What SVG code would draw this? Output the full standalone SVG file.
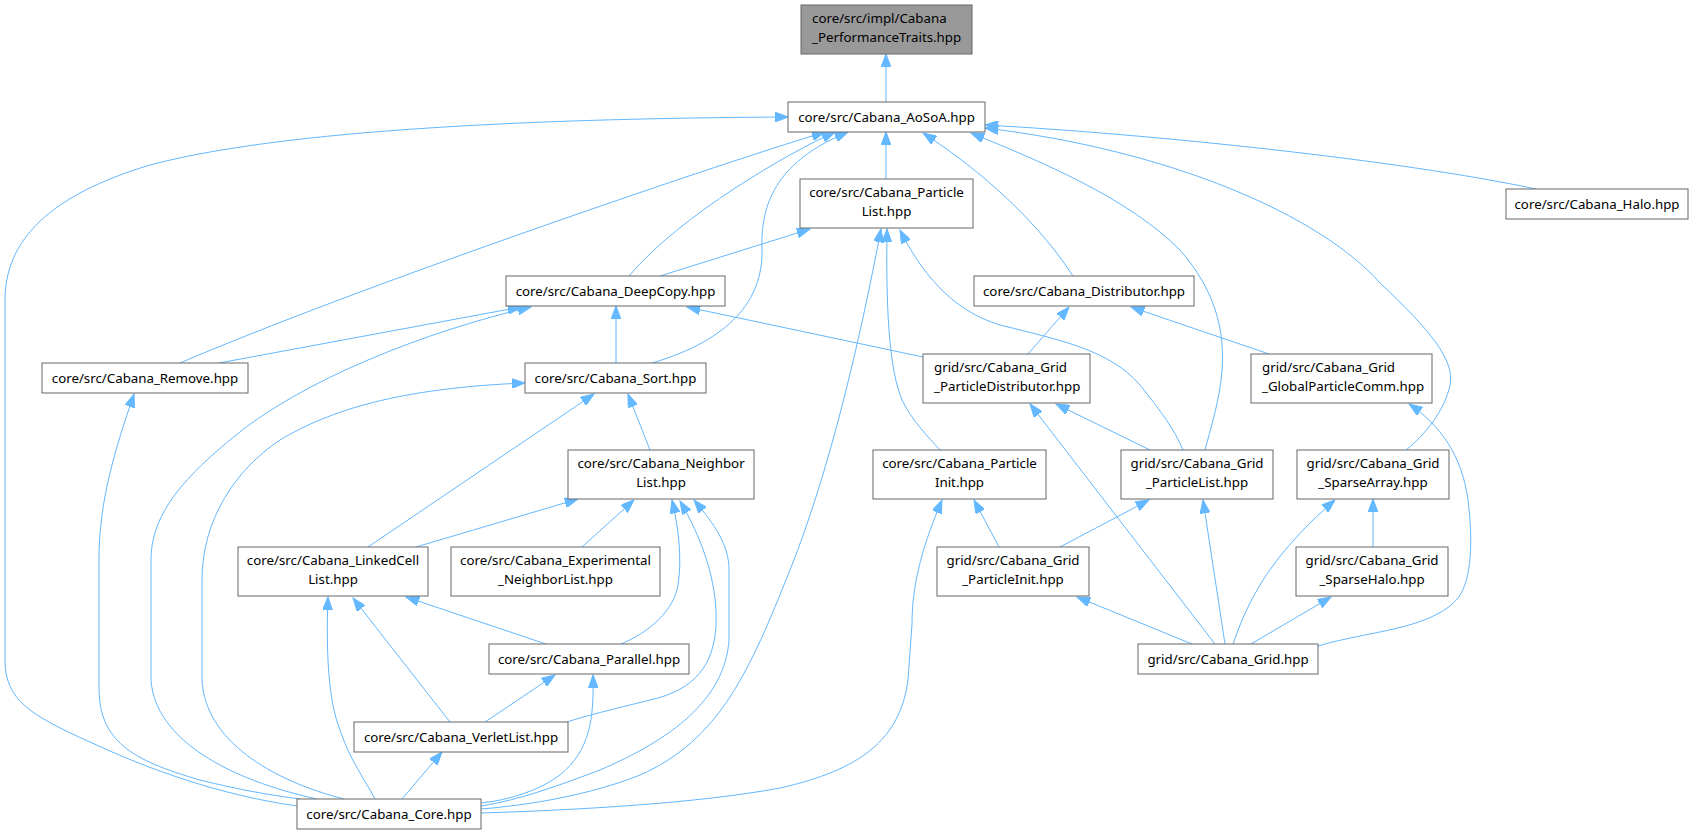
<svg xmlns="http://www.w3.org/2000/svg" width="1694" height="834" viewBox="0 0 1694 834">
<style>
.n rect{fill:#ffffff;stroke:#666666;stroke-width:1}
.n.root rect{fill:#999999}
.n text{font-family:"Noto Sans","DejaVu Sans",sans-serif;font-size:13.3px;fill:#000000}
.c{text-anchor:middle}
.e path{fill:none;stroke:#63b8ff;stroke-width:1;marker-start:url(#ah)}
</style>
<defs>
<marker id="ah" markerUnits="userSpaceOnUse" markerWidth="14" markerHeight="10" refX="13.3" refY="5" orient="auto-start-reverse" viewBox="0 0 14 10">
<path d="M0,0 L13.3,5 L0,10 z" fill="#63b8ff" stroke="#63b8ff" stroke-width="1"/>
</marker>
</defs>
<rect width="1694" height="834" fill="#ffffff"/>
<g id="edges" class="e">
<path d="M886,54 L886,102"/>
<path d="M788,117 C600,118 300,125 150,165 C50,195 5,240 5,300 L5,660 C5,700 30,715 90,742 C150,770 220,795 297,806"/>
<path d="M825,132 C700,170 350,290 180,363"/>
<path d="M835,132 C790,152 680,215 629,276"/>
<path d="M848,132 C780,160 760,200 762,250 C763,300 730,340 652,363"/>
<path d="M886,132 L886,179"/>
<path d="M923,133 C965,160 1030,210 1073,276"/>
<path d="M971,133 C1050,165 1130,200 1180,250 C1215,290 1225,330 1222,370 C1220,400 1210,430 1205,450"/>
<path d="M985,128 C1170,150 1320,215 1380,283 C1430,330 1455,360 1450,385 C1445,410 1425,435 1406,450"/>
<path d="M985,125 C1150,134 1400,160 1536,189"/>
<path d="M810,229 L660,276"/>
<path d="M881,229 C860,340 830,470 790,570 C750,670 720,740 640,775 C590,795 530,805 481,809"/>
<path d="M887,229 C886,300 888,370 903,402 C912,420 928,437 940,450"/>
<path d="M900,230 C920,270 950,310 1000,325 C1060,340 1110,350 1140,385 C1160,410 1175,430 1183,450"/>
<path d="M521,307 L219,363"/>
<path d="M531,307 C430,330 300,380 230,440 C175,485 151,520 151,560 L151,680 C155,740 230,780 317,799"/>
<path d="M616,306 L616,363"/>
<path d="M687,307 L923,357"/>
<path d="M1069,307 L1028,354"/>
<path d="M1131,307 L1269,354"/>
<path d="M134,394 C115,450 99,500 99,560 L99,690 C100,740 130,760 200,780 C240,790 270,795 300,799"/>
<path d="M525,383 C400,388 330,410 280,440 C235,470 202,520 202,580 L202,680 C205,740 270,780 344,799"/>
<path d="M594,394 L368,547"/>
<path d="M628,394 L650,450"/>
<path d="M1056,404 L1150,450"/>
<path d="M1030,404 L1215,644"/>
<path d="M1409,404 C1440,425 1462,455 1468,500 C1473,540 1472,580 1458,598 C1440,620 1400,628 1370,634 C1350,638 1335,641 1318,646"/>
<path d="M578,499 L416,547"/>
<path d="M634,500 L582,547"/>
<path d="M672,500 C679,530 682,560 678,585 C674,610 650,632 621,644"/>
<path d="M680,501 C700,535 718,580 716,625 C714,665 695,690 650,700 C610,710 585,716 567,722"/>
<path d="M694,500 C715,525 729,545 729,570 L729,640 C725,700 670,740 600,770 C560,785 520,800 481,806"/>
<path d="M974,500 L999,547"/>
<path d="M942,500 C925,540 912,580 912,624 L908,680 C900,740 860,770 780,788 C700,803 580,810 481,813"/>
<path d="M1149,500 L1060,547"/>
<path d="M1203,500 L1225,644"/>
<path d="M1373,499 L1373,547"/>
<path d="M1335,500 C1300,530 1275,560 1260,585 C1245,610 1238,630 1233,644"/>
<path d="M406,597 L546,644"/>
<path d="M353,598 L450,722"/>
<path d="M328,597 C326,650 328,700 340,730 C350,760 365,780 375,799"/>
<path d="M1077,597 L1192,644"/>
<path d="M1331,597 L1251,644"/>
<path d="M555,675 L485,722"/>
<path d="M593,675 C594,720 590,750 560,775 C540,790 510,800 481,803"/>
<path d="M442,752 L402,799"/>
</g>
<g id="node_perftraits" class="n root"><rect x="801" y="5" width="171" height="49"/><text x="812" y="23">core/src/impl/Cabana</text><text x="812" y="42">_PerformanceTraits.hpp</text></g>
<g id="node_aosoa" class="n"><rect x="788" y="102" width="197" height="30"/><text class="c" x="886.5" y="121.5">core/src/Cabana_AoSoA.hpp</text></g>
<g id="node_particlelist" class="n"><rect x="800" y="179" width="173" height="49"/><text class="c" x="886.5" y="197">core/src/Cabana_Particle</text><text class="c" x="886.5" y="216">List.hpp</text></g>
<g id="node_deepcopy" class="n"><rect x="506" y="276" width="219" height="30"/><text class="c" x="615.5" y="295.5">core/src/Cabana_DeepCopy.hpp</text></g>
<g id="node_distributor" class="n"><rect x="974" y="276" width="220" height="30"/><text class="c" x="1084" y="295.5">core/src/Cabana_Distributor.hpp</text></g>
<g id="node_halo" class="n"><rect x="1506" y="189" width="182" height="30"/><text class="c" x="1597" y="208.5">core/src/Cabana_Halo.hpp</text></g>
<g id="node_remove" class="n"><rect x="42" y="363" width="206" height="30"/><text class="c" x="145" y="382.5">core/src/Cabana_Remove.hpp</text></g>
<g id="node_sort" class="n"><rect x="525" y="363" width="181" height="30"/><text class="c" x="615.5" y="382.5">core/src/Cabana_Sort.hpp</text></g>
<g id="node_grid_particledistributor" class="n"><rect x="923" y="354" width="167" height="49"/><text x="934" y="372">grid/src/Cabana_Grid</text><text x="934" y="391">_ParticleDistributor.hpp</text></g>
<g id="node_grid_globalparticlecomm" class="n"><rect x="1251" y="354" width="181" height="49"/><text x="1262" y="372">grid/src/Cabana_Grid</text><text x="1262" y="391">_GlobalParticleComm.hpp</text></g>
<g id="node_neighborlist" class="n"><rect x="568" y="450" width="186" height="49"/><text class="c" x="661" y="468">core/src/Cabana_Neighbor</text><text class="c" x="661" y="487">List.hpp</text></g>
<g id="node_particleinit" class="n"><rect x="873" y="450" width="173" height="49"/><text class="c" x="959.5" y="468">core/src/Cabana_Particle</text><text class="c" x="959.5" y="487">Init.hpp</text></g>
<g id="node_grid_particlelist" class="n"><rect x="1121" y="450" width="152" height="49"/><text class="c" x="1197" y="468">grid/src/Cabana_Grid</text><text class="c" x="1197" y="487">_ParticleList.hpp</text></g>
<g id="node_grid_sparsearray" class="n"><rect x="1297" y="450" width="152" height="49"/><text class="c" x="1373" y="468">grid/src/Cabana_Grid</text><text class="c" x="1373" y="487">_SparseArray.hpp</text></g>
<g id="node_linkedcelllist" class="n"><rect x="238" y="547" width="190" height="49"/><text class="c" x="333" y="565">core/src/Cabana_LinkedCell</text><text class="c" x="333" y="584">List.hpp</text></g>
<g id="node_experimental" class="n"><rect x="451" y="547" width="209" height="49"/><text class="c" x="555.5" y="565">core/src/Cabana_Experimental</text><text class="c" x="555.5" y="584">_NeighborList.hpp</text></g>
<g id="node_grid_particleinit" class="n"><rect x="937" y="547" width="152" height="49"/><text class="c" x="1013" y="565">grid/src/Cabana_Grid</text><text class="c" x="1013" y="584">_ParticleInit.hpp</text></g>
<g id="node_grid_sparsehalo" class="n"><rect x="1296" y="547" width="152" height="49"/><text class="c" x="1372" y="565">grid/src/Cabana_Grid</text><text class="c" x="1372" y="584">_SparseHalo.hpp</text></g>
<g id="node_parallel" class="n"><rect x="489" y="644" width="200" height="30"/><text class="c" x="589" y="663.5">core/src/Cabana_Parallel.hpp</text></g>
<g id="node_grid" class="n"><rect x="1138" y="644" width="180" height="30"/><text class="c" x="1228" y="663.5">grid/src/Cabana_Grid.hpp</text></g>
<g id="node_verletlist" class="n"><rect x="354" y="722" width="214" height="30"/><text class="c" x="461" y="741.5">core/src/Cabana_VerletList.hpp</text></g>
<g id="node_core" class="n"><rect x="297" y="799" width="184" height="30"/><text class="c" x="389" y="818.5">core/src/Cabana_Core.hpp</text></g>
</svg>
